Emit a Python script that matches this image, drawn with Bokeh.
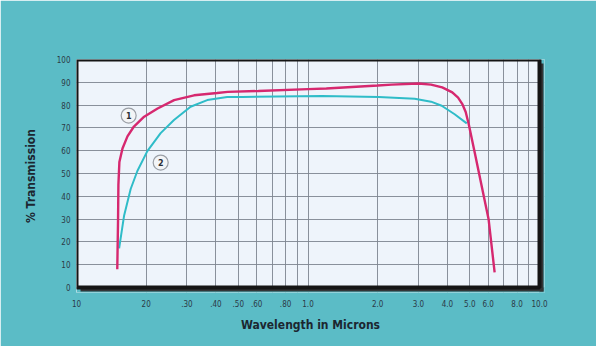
from bokeh.plotting import figure
from bokeh.models import Range1d, FixedTicker, ColumnDataSource
from bokeh.core.properties import value
from bokeh.embed import file_html
from bokeh.resources import INLINE

# ---- data ----
wl_1 = [0.150, 0.1512, 0.1517, 0.1532, 0.158, 0.166, 0.177, 0.196, 0.224, 0.264,
        0.322, 0.405, 0.45, 0.61, 1.0, 1.2, 2.0, 2.3, 3.0, 3.4, 3.8, 4.2, 4.45, 4.65,
        4.8, 4.95, 5.25, 5.62, 6.03, 6.40]
tr_1 = [8.0, 30.0, 45.0, 55.0, 61.0, 66.3, 70.6, 74.9, 78.5, 82.2,
        84.3, 85.3, 85.8, 86.2, 87.0, 87.3, 88.6, 89.0, 89.5, 89.0, 87.8, 85.6, 83.3, 80.3,
        77.0, 71.5, 59.2, 44.7, 29.8, 6.6]

wl_2 = [0.1528, 0.1606, 0.1714, 0.1832, 0.2023, 0.2309, 0.2637, 0.311, 0.367,
        0.4475, 0.52, 1.15, 2.02, 2.89, 3.4, 3.78, 4.3, 4.85]
tr_2 = [17.2, 31.6, 43.2, 51.1, 59.8, 67.7, 73.5, 79.3, 82.2,
        83.6, 83.6, 84.0, 83.6, 82.8, 81.5, 79.7, 76.0, 72.0]

x_ticks = [0.1, 0.2, 0.3, 0.4, 0.5, 0.6, 0.8, 1.0, 2.0, 3.0, 4.0, 5.0, 6.0, 8.0, 10.0]
x_tick_labels = ["10", "20", ".30", ".40", ".50", ".60", ".80", "1.0", "2.0", "3.0",
                 "4.0", "5.0", "6.0", "8.0", "10.0"]
x_minor = [0.7, 0.9, 7.0, 9.0]
y_ticks = [0, 10, 20, 30, 40, 50, 60, 70, 80, 90, 100]

curve_ids = ["1", "2"]
curve_label_x = [0.168, 0.231]
curve_label_y = [75.4, 54.8]

X_MIN, X_MAX, Y_MIN, Y_MAX = 0.1, 10.0, 0.0, 100.0

TEAL_BG = "#5bbcc6"
MAGENTA = "#d6286f"
CYAN = "#2fbcc8"
DARK = "#1c2630"
FONT = "DejaVu Sans Condensed"

# pixel scales of the chart area (px per decade / px per % unit)
PX_DEC = 231.5
PX_Y = 2.28
EXTRA = 5  # px of room for the drop shadow
kx_ext = 10 ** (EXTRA / PX_DEC)
dy_ext = EXTRA / PX_Y
kx_sh = 10 ** (4 / PX_DEC)
dy_sh = 4 / PX_Y

p = figure(width=596, height=346, x_axis_type="log",
           x_range=Range1d(X_MIN, X_MAX * kx_ext), y_range=Range1d(Y_MIN - dy_ext, Y_MAX),
           output_backend="svg", toolbar_location=None,
           min_border_left=76, min_border_right=52,
           min_border_top=59, min_border_bottom=54)

p.border_fill_color = TEAL_BG
p.background_fill_color = "#eef4fb"
p.outline_line_color = None

# axes
p.xaxis.ticker = FixedTicker(ticks=x_ticks, minor_ticks=x_minor)
p.xaxis.major_label_overrides = {t: l for t, l in zip(x_ticks, x_tick_labels)}
p.yaxis.ticker = FixedTicker(ticks=y_ticks)
for ax in (p.xaxis[0], p.yaxis[0]):
    ax.axis_line_color = None
    ax.major_tick_line_color = None
    ax.minor_tick_line_color = None
    ax.major_label_text_font = FONT
    ax.major_label_text_font_size = "8px"
    ax.major_label_text_color = "#2c3a46"
    ax.axis_label_text_font = FONT
    ax.axis_label_text_font_style = "bold"
    ax.axis_label_text_font_size = "12px"
    ax.axis_label_text_color = DARK

p.xaxis.axis_label = "Wavelength in Microns"
p.yaxis.axis_label = "% Transmission"
p.xaxis.major_label_standoff = 1
p.xaxis.axis_label_standoff = 8
p.yaxis.major_label_standoff = 0
p.yaxis.axis_label_standoff = 16

# grid
for g in (p.xgrid[0], p.ygrid[0]):
    g.grid_line_color = "#7d8590"
    g.grid_line_width = 1
    g.grid_line_alpha = 0.9
p.xgrid.minor_grid_line_color = "#7d8590"
p.xgrid.minor_grid_line_alpha = 0.9

# teal margin strips (room reserved for the shadow) and the shadow itself
p.quad(left=[X_MAX, X_MIN], right=[X_MAX * kx_ext * 1.01, X_MAX * kx_ext * 1.01],
       bottom=[Y_MIN - dy_ext - 1, Y_MIN - dy_ext - 1], top=[Y_MAX + 1, Y_MIN],
       fill_color=TEAL_BG, line_color=None)
p.quad(left=[X_MAX, X_MIN * kx_sh], right=[X_MAX * kx_sh, X_MAX * kx_sh],
       bottom=[Y_MIN - dy_sh, Y_MIN - dy_sh], top=[Y_MAX - dy_sh, Y_MIN],
       fill_color="#333536", line_color=None)

# curves
p.line(wl_2, tr_2, line_color=CYAN, line_width=2)
p.line(wl_1, tr_1, line_color=MAGENTA, line_width=2.4)

# frame border
p.quad(left=[X_MIN], right=[X_MAX], bottom=[Y_MIN], top=[Y_MAX],
       fill_color=None, line_color="#151515", line_width=4)

# curve labels
src = ColumnDataSource(dict(x=curve_label_x, y=curve_label_y, t=curve_ids))
p.scatter("x", "y", source=src, marker="circle", size=15,
          fill_color="#f3f5f7", line_color="#9a9fa6", line_width=1.2)
p.text("x", "y", text="t", source=src, text_font=value("DejaVu Sans"),
       text_font_style="bold", text_font_size="8px", text_color="#2a2f36",
       text_align="center", text_baseline="middle")

open("out.html", "w").write(file_html(p, INLINE))
